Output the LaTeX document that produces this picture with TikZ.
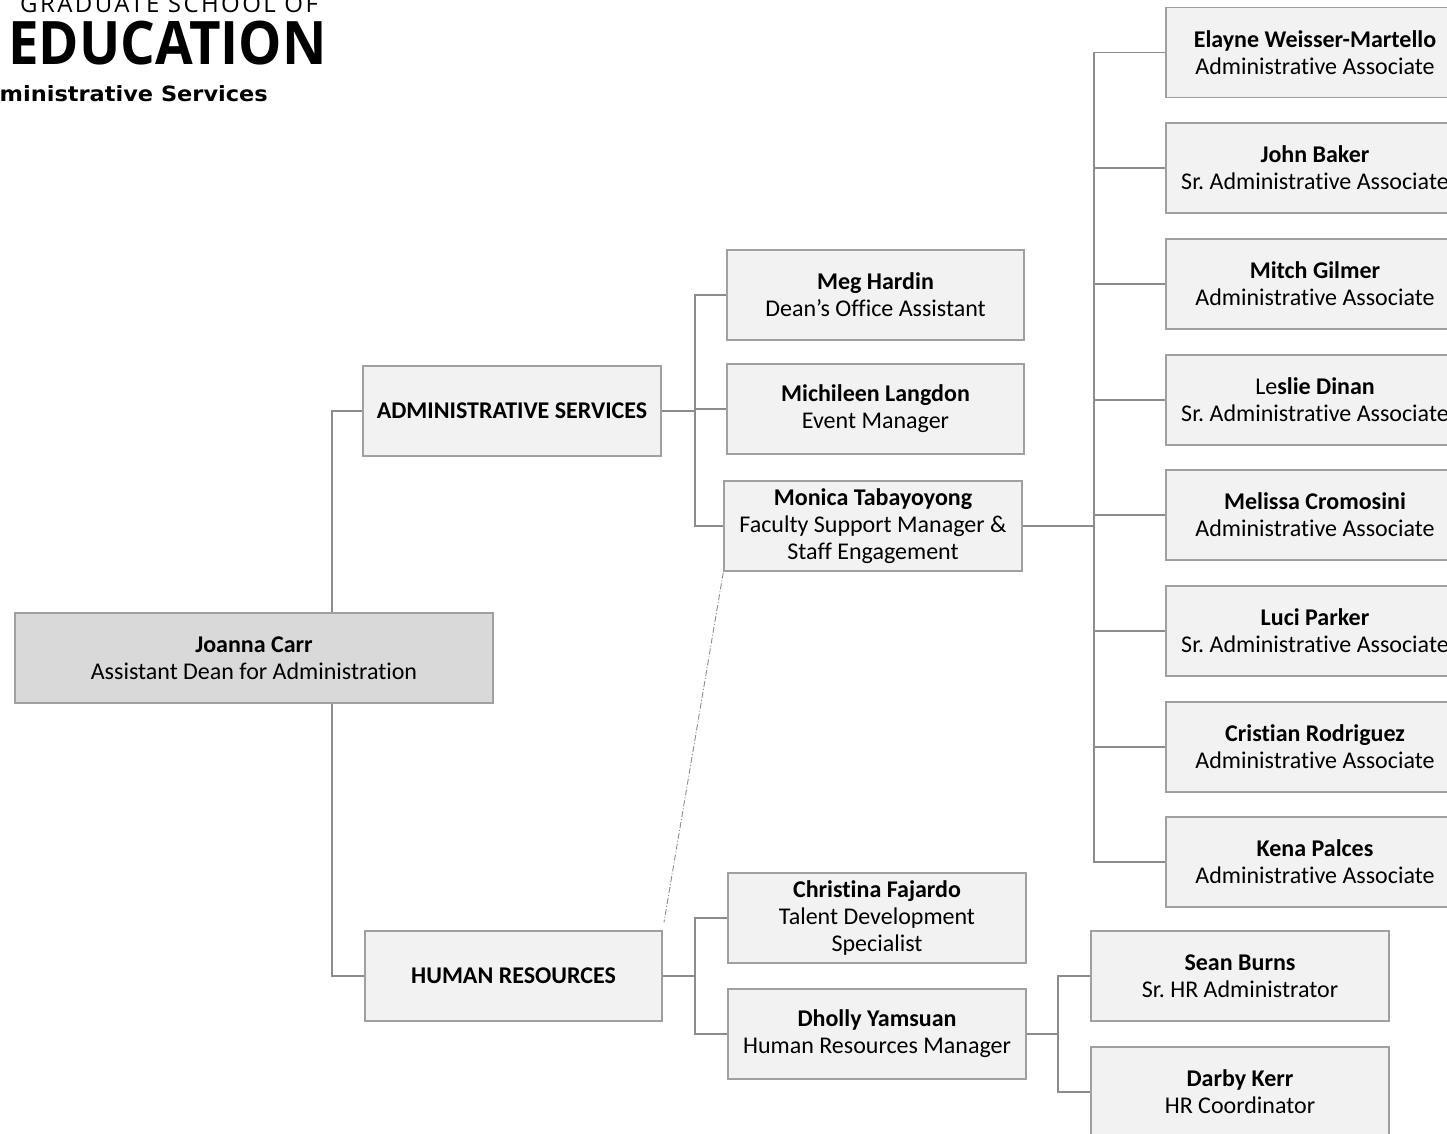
\documentclass[tikz,border=0pt]{standalone}
\usepackage{fontspec}
\setmainfont{Carlito}[Ligatures={NoCommon}]
\newfontfamily\edufont{Open Sans}
\newfontfamily\gsfont[LetterSpace=10]{Open Sans}
\newfontfamily\subfont{DejaVu Sans}
\definecolor{boxfill}{HTML}{F2F2F2}
\definecolor{topfill}{HTML}{D9D9D9}
\definecolor{boxline}{HTML}{A0A0A0}
\definecolor{connline}{HTML}{8C8C8C}
\tikzset{
  box/.style={draw=boxline, line width=1.2pt, fill=boxfill, minimum width=298pt, minimum height=90pt,
    inner sep=0pt, align=center, font=\fontsize{24}{27}\selectfont\frenchspacing},
  conn/.style={draw=connline, line width=1.1pt},
  dotted link/.style={draw=connline, line width=0.9pt, dash pattern=on 6pt off 2pt on 1pt off 2pt}
}
\begin{document}
\begin{tikzpicture}[x=1pt,y=-1pt]
\useasboundingbox (0,0) rectangle (1447,1134);
% header
\node[anchor=base west, inner sep=0pt, font=\gsfont\fontsize{24}{24}\selectfont] (gs) at (20,13) {GRADUATE SCHOOL OF};
\node[anchor=base west, inner sep=0pt, font=\edufont\bfseries\fontsize{60}{60}\selectfont] (edu) at (8,65) {\scalebox{0.91}[1]{EDUCATION}};
\node[anchor=base east, inner sep=0pt, font=\subfont\bfseries\fontsize{21}{21}\selectfont] (sub) at (268,102) {\scalebox{1.07}[1]{Administrative Services}};
% boxes
\node[box, fill=topfill, minimum width=478pt] (jc) at (254,658) {\textbf{Joanna Carr}\\Assistant Dean for Administration};
\node[box] (as) at (512,411) {\textbf{ADMINISTRATIVE SERVICES}};
\node[box, minimum width=297pt] (hr) at (513.5,976) {\textbf{HUMAN RESOURCES}};
\node[box, minimum width=297pt] (meg) at (875.5,295) {\textbf{Meg Hardin}\\Dean’s Office Assistant};
\node[box, minimum width=297pt] (mic) at (875.5,409) {\textbf{Michileen Langdon}\\Event Manager};
\node[box] (mon) at (873,526) {\textbf{Monica Tabayoyong}\\Faculty Support Manager \&\\Staff Engagement};
\node[box] (chr) at (877,918) {\textbf{Christina Fajardo}\\Talent Development\\Specialist};
\node[box] (dho) at (877,1034) {\textbf{Dholly Yamsuan}\\Human Resources Manager};
\node[box] (sea) at (1240,976) {\textbf{Sean Burns}\\Sr. HR Administrator};
\node[box] (dar) at (1240,1092) {\textbf{Darby Kerr}\\HR Coordinator};
\node[box] (r1) at (1315,52.5) {\textbf{Elayne Weisser-Martello}\\Administrative Associate};
\node[box] (r2) at (1315,168) {\textbf{John Baker}\\Sr. Administrative Associate};
\node[box] (r3) at (1315,284) {\textbf{Mitch Gilmer}\\Administrative Associate};
\node[box] (r4) at (1315,400) {Le\textbf{slie Dinan}\\Sr. Administrative Associate};
\node[box] (r5) at (1315,515) {\textbf{Melissa Cromosini}\\Administrative Associate};
\node[box] (r6) at (1315,631) {\textbf{Luci Parker}\\Sr. Administrative Associate};
\node[box] (r7) at (1315,747) {\textbf{Cristian Rodriguez}\\Administrative Associate};
\node[box] (r8) at (1315,862) {\textbf{Kena Palces}\\Administrative Associate};
% connectors
\draw[conn] (332,0 |- jc.north) |- (as.west);
\draw[conn] (332,0 |- jc.south) |- (hr.west);
\coordinate (ab) at (695,411);
\draw[conn] (as.east) -- (ab);
\draw[conn] (meg.west) -| (ab) |- (mon.west);
\draw[conn] (mic.west) -- (mic.west -| ab);
\coordinate (mb) at (1094,526);
\draw[conn] (mon.east) -- (mb);
\draw[conn] (r1.west) -| (mb) |- (r8.west);
\foreach \i in {2,...,7}{\draw[conn] (r\i.west) -- (r\i.west -| mb);}
\coordinate (hb) at (695,976);
\draw[conn] (hr.east) -- (hb);
\draw[conn] (chr.west) -| (hb) |- (dho.west);
\coordinate (db) at (1058,1034);
\draw[conn] (dho.east) -- (db);
\draw[conn] (sea.west) -| (db) |- (dar.west);
\draw[dotted link, shorten >=8pt, shorten <=1pt] (mon.south west) -- (hr.north east);
\end{tikzpicture}
\end{document}
